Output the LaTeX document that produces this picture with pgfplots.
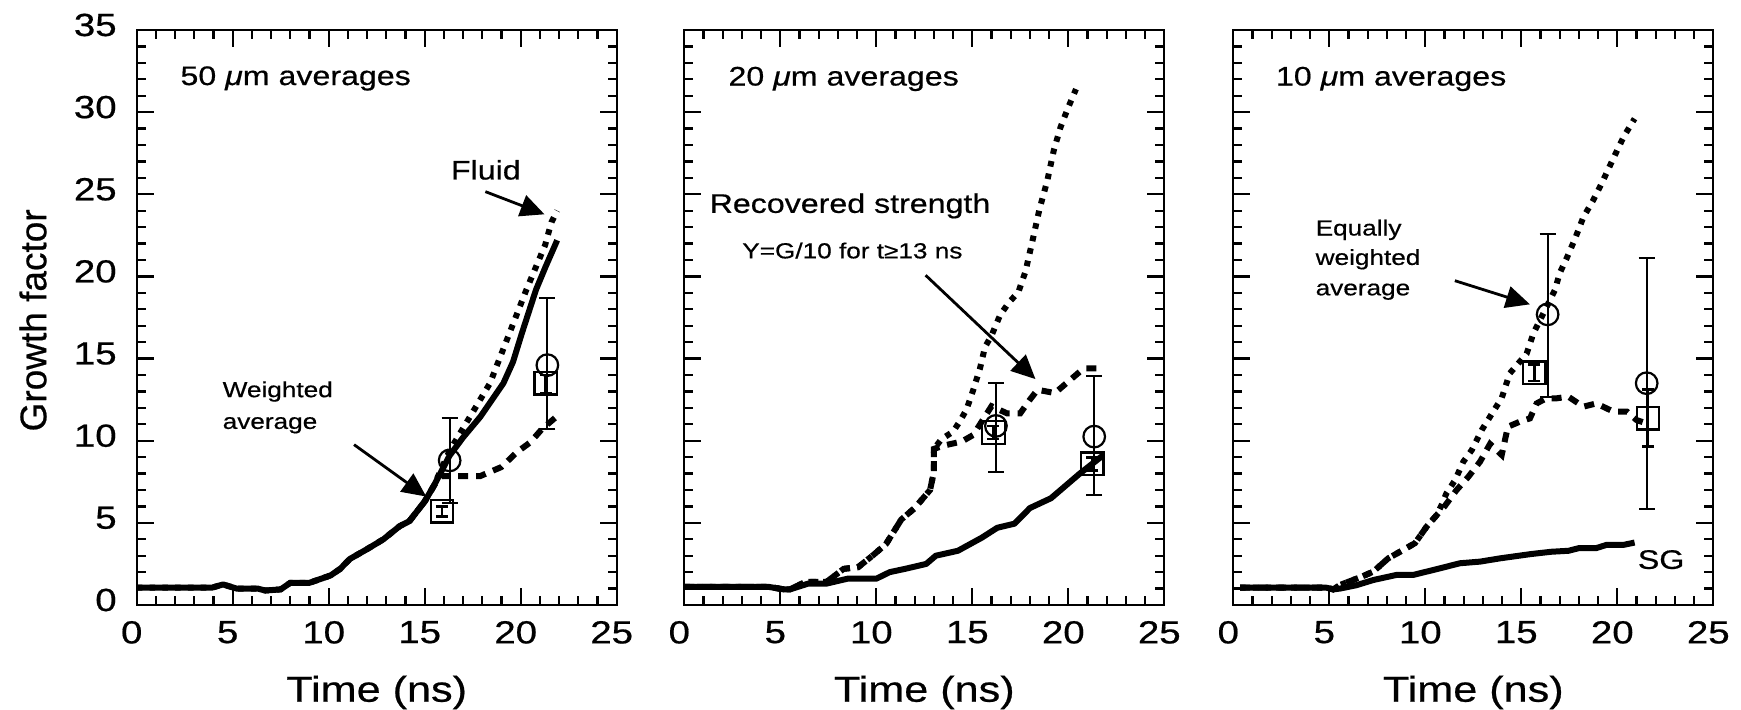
\documentclass[border=0pt]{standalone}
\usepackage{fontspec}
\setmainfont{Liberation Sans}[FakeStretch=1.2, FakeBold=0.6]
\newfontfamily\plainfont{Liberation Sans}[FakeBold=0.6]
\usepackage{pgfplots}
\pgfplotsset{compat=1.18}
\usetikzlibrary{arrows.meta}
\pgfplotsset{
  panel/.style={
    scale only axis, width=240pt, height=287.5pt,
    xmin=0,xmax=25,ymin=0,ymax=35,
    xtick={0,5,...,25}, ytick={0,5,...,35},
    minor x tick num=4, minor y tick num=4,
    tick align=inside, major tick length=8.5pt, minor tick length=4.5pt,
    axis line style={line width=1.1pt},
    every tick/.style={line width=1.1pt, black},
    tick label style={font=\fontsize{16}{18}\selectfont},
    /pgf/number format/assume math mode=true,
    xticklabel style={yshift=-4.5pt, xshift=-2.5pt},
    yticklabel style={xshift=-6.5pt, yshift=2.5pt},
    clip=false, anchor=south west,
  },
  solidc/.style={black, line width=3pt, line join=round, no marks},
  fluid/.style={black, line width=3pt, dash pattern=on 2.8pt off 3.6pt, no marks},
  recov/.style={black, line width=3pt, dash pattern=on 5pt off 4pt, no marks},
  circ/.style={black, only marks, mark=o, mark size=5.4pt, mark options={line width=1.1pt, black},
    error bars/.cd, y dir=both, y explicit, error bar style={line width=1.1pt, black},
    error mark options={rotate=90, mark size=4pt, line width=1.1pt, black}},
  sqr/.style={black, only marks, mark=square, mark size=5.6pt, mark options={line width=1.1pt, black},
    error bars/.cd, y dir=both, y explicit, error bar style={line width=1.4pt, black},
    error mark options={rotate=90, mark size=3pt, line width=1.4pt, black}},
}
\tikzset{
  arr/.style={-{Triangle[length=12pt,width=11pt]}, line width=1.4pt},
  ann/.style={anchor=base west, inner sep=0pt, font=\fontsize{13.4}{15}\selectfont},
  anns/.style={anchor=base west, inner sep=0pt, font=\fontsize{10.9}{13}\selectfont},
  xlab/.style={font=\fontsize{18}{21}\selectfont},
}
\begin{document}
\begin{tikzpicture}
\useasboundingbox (0,0) rectangle (870.5pt,355pt);
% ---------------- Panel 1 ----------------
\begin{axis}[panel, at={(68.35pt,52.5pt)}]
\addplot[fluid] coordinates {(0,1.05)(3.9,1.05)(4.5,1.25)(5.2,1.0)(6.3,1.0)(6.7,0.88)(7.5,0.95)(8.0,1.35)(9.0,1.35)(10.1,1.8)(10.6,2.2)(11.1,2.8)(12.0,3.4)(12.85,4.0)(13.7,4.8)(14.2,5.1)(15.0,6.3)(15.45,7.2)(16.3,9.4)(17.36,11.46)(18.4,13.5)(19.4,16.5)(20.3,19.2)(21.27,21.9)(21.6,23.3)(21.9,24.0)};
\addplot[recov] coordinates {(14.2,5.1)(15.0,6.3)(15.5,7.3)(15.9,7.85)(17.9,7.85)(19.0,8.4)(19.8,9.3)(20.5,9.9)(21.1,10.7)(21.8,11.4)};
\addplot[solidc] coordinates {(0,1.05)(3.9,1.05)(4.5,1.25)(5.2,1.0)(6.3,1.0)(6.7,0.88)(7.5,0.95)(8.0,1.35)(9.0,1.35)(10.1,1.8)(10.6,2.2)(11.1,2.8)(12.0,3.4)(12.85,4.0)(13.7,4.8)(14.2,5.1)(15.0,6.3)(15.45,7.2)(16.3,9.1)(17.0,10.2)(17.9,11.46)(19.1,13.5)(19.6,14.8)(20.05,16.5)(20.8,19.2)(21.3,20.6)(21.9,22.2)};
\addplot[circ] coordinates {(16.3,8.8) += (0,2.56) -= (0,2.6) (21.39,14.6) += (0,4.07) -= (0,3.9)};
\addplot[sqr] coordinates {(15.9,5.7) += (0,0.3) -= (0,0.3) (21.3,13.5) += (0,0.5) -= (0,0.6)};
\node[ann] at (axis cs:2.26,31.65) {50 \textit{μ}m averages};
\node[ann] at (axis cs:16.35,25.9) {Fluid};
\draw[arr] (axis cs:18.16,25.16) -- (axis cs:21.24,23.78);
\node[anns] at (axis cs:4.46,12.65) {Weighted};
\node[anns] at (axis cs:4.46,10.72) {average};
\draw[arr] (axis cs:11.32,9.76) -- (axis cs:15.08,6.6);
\node[xlab] at (axis description cs:0.5,-0.152) {Time (ns)};
\node[rotate=90, font=\plainfont\fontsize{18.5}{21}\selectfont] at (axis description cs:-0.216,0.495) {Growth factor};
\end{axis}
% ---------------- Panel 2 ----------------
\begin{axis}[panel, at={(342.15pt,52.5pt)}, yticklabels={}]
\addplot[fluid] coordinates {(0,1.1)(4.4,1.1)(5.2,0.95)(5.5,0.95)(6.3,1.4)(7.4,1.4)(8.3,2.2)(9.05,2.3)(9.8,3.0)(10.5,3.7)(11.3,5.2)(12.0,5.9)(12.8,7.0)(13.0,8.1)(13.0,9.5)(13.4,10.1)(14.0,10.55)(14.36,11.2)(14.7,11.9)(15.05,13.1)(15.4,14.4)(15.66,15.7)(16.0,16.4)(16.45,17.65)(16.9,18.4)(17.4,19.05)(17.77,20.3)(18.14,22.2)(18.5,24.1)(18.9,25.8)(19.25,27.7)(19.6,29.1)(20.0,30.3)(20.4,31.4)};
\addplot[recov] coordinates {(0,1.1)(4.4,1.1)(5.2,0.95)(5.5,0.95)(6.3,1.4)(7.4,1.4)(8.3,2.2)(9.05,2.3)(9.8,3.0)(10.5,3.7)(11.3,5.2)(12.0,5.9)(12.8,7.0)(13.0,8.1)(13.0,9.5)(13.5,9.7)(14.45,9.95)(15.05,10.35)(16.0,12.1)(16.8,11.67)(17.5,11.67)(18.0,12.5)(18.4,13.1)(19.3,12.9)(20.1,13.7)(20.8,14.4)(21.5,14.4)};
\addplot[solidc] coordinates {(0,1.1)(4.4,1.1)(5.2,0.95)(5.5,0.95)(6.45,1.3)(7.4,1.3)(8.5,1.6)(10.0,1.6)(10.7,2.0)(11.5,2.2)(12.6,2.5)(13.1,3.0)(14.25,3.3)(15.5,4.1)(16.3,4.7)(17.2,4.95)(18.0,5.9)(19.1,6.5)(19.6,7.0)(20.6,8.0)(21.8,9.1)};
\addplot[circ] coordinates {(16.23,10.9) += (0,2.6) -= (0,2.8) (21.35,10.25) += (0,3.69) -= (0,3.55)};
\addplot[sqr] coordinates {(16.1,10.5) += (0,0.4) -= (0,0.4) (21.25,8.6) += (0,0.4) -= (0,0.4)};
\node[ann] at (axis cs:2.28,31.62) {20 \textit{μ}m averages};
\node[ann] at (axis cs:1.3,23.87) {Recovered strength};
\node[anns] at (axis cs:3.0,21.1) {Y=G/10 for t≥13 ns};
\draw[arr] (axis cs:12.57,20.07) -- (axis cs:18.29,13.75);
\node[xlab] at (axis description cs:0.5,-0.152) {Time (ns)};
\end{axis}
% ---------------- Panel 3 ----------------
\begin{axis}[panel, at={(616.65pt,52.5pt)}, yticklabels={}]
\addplot[fluid] coordinates {(0.35,1.05)(4.86,1.05)(5.2,0.95)(5.56,1.22)(6.68,1.72)(7.29,2.03)(8.07,2.84)(8.68,3.24)(9.46,3.76)(10.07,4.77)(10.6,5.48)(10.85,6.09)(11.1,6.8)(11.55,7.6)(11.98,8.72)(12.42,9.43)(12.94,10.65)(13.37,11.46)(13.98,12.6)(14.4,14.1)(15.28,15.3)(15.63,16.54)(16.15,17.75)(16.75,19.17)(17.0,20.2)(17.36,21.1)(17.8,22.3)(18.23,23.6)(18.75,24.65)(19.19,25.67)(19.8,27.2)(20.33,28.5)(20.9,29.6)};
\addplot[recov] coordinates {(0.35,1.05)(4.86,1.05)(5.2,0.95)(5.56,1.22)(6.68,1.72)(7.29,2.03)(8.07,2.84)(8.68,3.24)(9.46,3.76)(10.07,4.77)(10.6,5.48)(11.0,6.0)(11.63,7.0)(12.24,7.8)(12.85,8.72)(13.37,9.8)(13.98,9.13)(14.3,10.85)(14.93,11.16)(15.45,11.36)(15.8,12.27)(16.3,12.58)(16.84,12.58)(17.45,12.68)(18.23,12.07)(18.9,12.27)(19.8,11.77)(20.5,11.77)(21.0,11.26)(21.5,11.06)};
\addplot[solidc] coordinates {(0.35,1.05)(4.86,1.05)(5.2,0.95)(5.56,1.0)(6.4,1.2)(7.29,1.52)(8.5,1.83)(9.37,1.83)(10.76,2.23)(11.8,2.54)(12.85,2.64)(13.9,2.84)(15.5,3.1)(16.56,3.24)(17.46,3.3)(18.0,3.46)(18.9,3.46)(19.44,3.66)(20.33,3.66)(20.9,3.8)};
\addplot[circ] coordinates {(16.37,17.69) += (0,4.89) -= (0,5.05) (21.53,13.5) += (0,7.6) -= (0,7.65)};
\addplot[sqr] coordinates {(15.68,14.14) += (0,0.5) -= (0,0.5) (21.6,11.36) += (0,1.74) -= (0,1.72)};
\node[ann] at (axis cs:2.2,31.62) {10 \textit{μ}m averages};
\node[anns] at (axis cs:4.27,22.49) {Equally};
\node[anns] at (axis cs:4.27,20.7) {weighted};
\node[anns] at (axis cs:4.27,18.85) {average};
\draw[arr] (axis cs:11.54,19.74) -- (axis cs:15.45,18.3);
\node[ann] at (axis cs:21.05,2.2) {SG};
\node[xlab] at (axis description cs:0.5,-0.152) {Time (ns)};
\end{axis}
\end{tikzpicture}
\end{document}
